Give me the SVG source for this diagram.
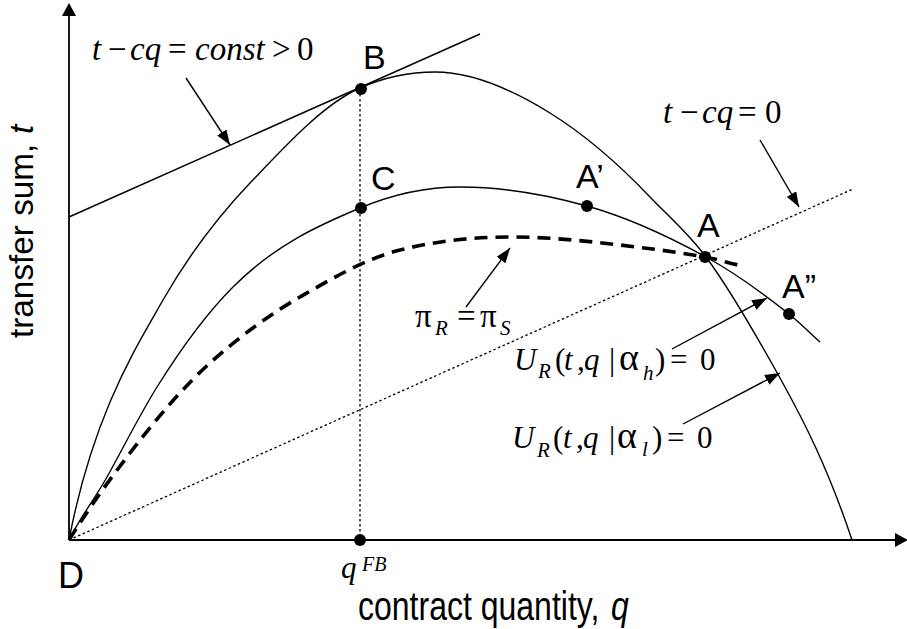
<svg xmlns="http://www.w3.org/2000/svg" width="907" height="629" viewBox="0 0 907 629">
<style>
.ln{fill:none;stroke:#000;stroke-width:1.4}
.ax{fill:none;stroke:#000;stroke-width:1.8}
.dot{fill:none;stroke:#000;stroke-width:1.3;stroke-dasharray:2.5 2.5}
.dash{fill:none;stroke:#000;stroke-width:3.6;stroke-dasharray:13 8}
.pt{fill:#000}
.lbl{font-family:"Liberation Sans",Arial,sans-serif;font-size:34px;fill:#000}
.m{font-family:"Liberation Serif","Times New Roman",serif;font-size:33px;fill:#000}
.i{font-style:italic}
.sub{font-size:21px;font-style:italic}
.g{font-size:38px}
</style>
<defs>
<marker id="ah" markerUnits="userSpaceOnUse" markerWidth="15" markerHeight="11" refX="15" refY="5.5" orient="auto">
<path d="M0,0 L15,5.5 L0,11 z" fill="#000"/>
</marker>
</defs>
<g id="axes">
<line class="ax" x1="69" y1="540" x2="69" y2="15"/>
<path d="M62,16 L69,3 L76,16 z" fill="#000"/>
<line class="ax" x1="69" y1="540" x2="896" y2="540"/>
<path d="M895,533 L908,540 L895,547 z" fill="#000"/>
</g>
<g id="curves">
<path id="curve-alpha-l" class="ln" d="M69,540 C78,493 91.4,446 110,402 C127.7,360 145.3,331 163,300 C192,249.3 221,213.5 250,183 C286.7,144.5 323.3,104.3 360,88 C385,76.9 410,72 435,72 C473.3,72 511.7,89.2 550,113 C583.3,133.7 616.7,162 650,197 C668.7,216.6 687.3,231.8 706,257 C730.7,290.3 755.3,333.6 780,378 C804,421.2 828,468 852,540"/>
<path id="curve-alpha-h" class="ln" d="M69,540 C81.67,514.7 94.33,499.8 107,477 C123.67,447 140.33,413.7 157,387 C182.33,346.5 207.67,312.3 233,287 C275.33,244.7 317.67,225.8 360,208 C393.33,194 426.67,187 460,187 C502.33,187 544.67,194.1 587,206 C626.67,217.1 666.33,235.2 706,257 C733.67,272.2 761.33,291.9 789,314 C799.33,322.3 809.67,332.7 820,342"/>
<path id="curve-pi" class="dash" d="M69,540 C89.33,507.5 109.67,479.4 130,453 C156.67,418.3 183.33,387 210,363 C240,336 270,314.4 300,297 C333.33,277.7 366.67,258.3 400,250 C436.67,240.8 473.33,237 510,237 C546.67,237 583.33,240.6 620,245 C648.33,248.4 676.67,251.9 705,257 C716,259 727,262.4 738,265"/>
<line id="tangent" class="ln" x1="69" y1="217" x2="480" y2="34"/>
<line id="zero-profit" class="dot" x1="69" y1="540" x2="853" y2="189"/>
<line id="qfb-drop" class="dot" x1="360" y1="89" x2="360" y2="540"/>
</g>
<g id="node-B"><circle class="pt" cx="361" cy="89" r="6"/><text class="lbl" x="363" y="69">B</text></g>
<g id="node-C"><circle class="pt" cx="361" cy="208" r="6"/><text class="lbl" x="371" y="190">C</text></g>
<g id="node-A1"><circle class="pt" cx="587" cy="206" r="6"/><text class="lbl" x="576" y="188">A’</text></g>
<g id="node-A"><circle class="pt" cx="705" cy="257" r="6"/><text class="lbl" x="697" y="237">A</text></g>
<g id="node-A2"><circle class="pt" cx="789" cy="314" r="6"/><text class="lbl" x="782" y="298">A”</text></g>
<g id="node-D"><text class="lbl" x="58" y="588" style="font-size:36px">D</text></g>
<g id="node-qFB"><circle class="pt" cx="360" cy="540" r="6"/>
<text class="m" y="578"><tspan class="i" x="341" style="font-size:31px">q</tspan><tspan class="i" x="362" y="571" style="font-size:20px">FB</tspan></text></g>
<g id="axis-labels">
<text class="lbl" transform="translate(358,620) scale(1,1.25)" x="0" y="0" style="font-size:32px">contract quantity,</text>
<text class="lbl i" transform="translate(611,620) scale(1,1.25)" x="0" y="0" style="font-size:32px">q</text>
<text class="lbl" transform="translate(33,338) rotate(-90)" x="0" y="0" style="font-size:33.3px">transfer sum,</text>
<text class="lbl i" transform="translate(33,134) rotate(-90)" x="0" y="0" style="font-size:33.3px">t</text>
</g>
<g id="math-labels">
<text class="m" y="60"><tspan class="i" x="92">t</tspan><tspan x="108">−</tspan><tspan class="i" x="130">cq</tspan><tspan x="168">=</tspan><tspan class="i" x="195">const</tspan><tspan x="272">&gt;</tspan><tspan x="297">0</tspan></text>
<text class="m" y="123"><tspan class="i" x="663">t</tspan><tspan x="680">−</tspan><tspan class="i" x="702">cq</tspan><tspan x="738">=</tspan><tspan x="765">0</tspan></text>
<text class="m" y="327"><tspan x="415">π</tspan><tspan class="sub" x="435" y="335">R</tspan><tspan x="457" y="327">=</tspan><tspan x="480">π</tspan><tspan class="sub" x="500" y="335">S</tspan></text>
<text class="m" y="370" style="font-size:31px"><tspan class="i" x="514">U</tspan><tspan class="sub" x="538" y="378">R</tspan><tspan x="555" y="370">(</tspan><tspan class="i" x="564">t</tspan><tspan x="577">,</tspan><tspan class="i" x="584">q</tspan><tspan x="609">|</tspan><tspan class="g" x="619">α</tspan><tspan class="sub" x="643" y="380">h</tspan><tspan x="655" y="370">)</tspan><tspan x="670">=</tspan><tspan x="700">0</tspan></text>
<text class="m" y="448" style="font-size:31px"><tspan class="i" x="512">U</tspan><tspan class="sub" x="537" y="457">R</tspan><tspan x="553" y="448">(</tspan><tspan class="i" x="563">t</tspan><tspan x="576">,</tspan><tspan class="i" x="583">q</tspan><tspan x="609">|</tspan><tspan class="g" x="617">α</tspan><tspan class="sub" x="642" y="456">l</tspan><tspan x="652" y="448">)</tspan><tspan x="667">=</tspan><tspan x="697">0</tspan></text>
</g>
<g id="connectors">
<line class="ln" x1="186" y1="78" x2="230" y2="145" marker-end="url(#ah)"/>
<line class="ln" x1="760" y1="140" x2="799" y2="207" marker-end="url(#ah)"/>
<line class="ln" x1="466" y1="307" x2="510" y2="248" marker-end="url(#ah)"/>
<line class="ln" x1="672" y1="349" x2="767" y2="298" marker-end="url(#ah)"/>
<line class="ln" x1="683" y1="424" x2="780" y2="373" marker-end="url(#ah)"/>
</g>
</svg>
